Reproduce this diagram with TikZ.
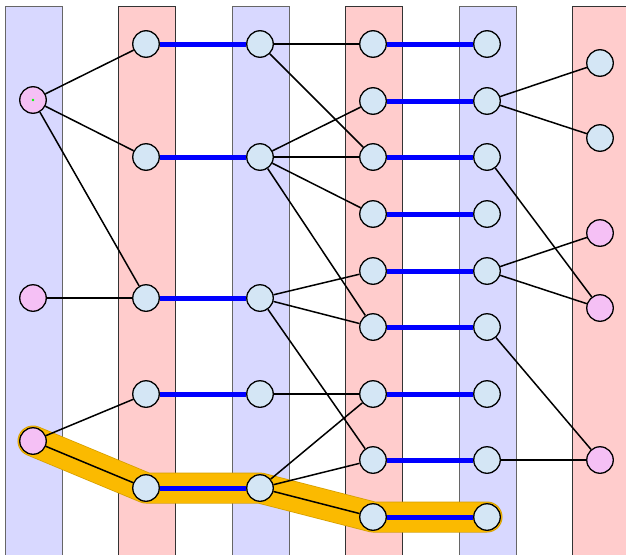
\documentclass[tikz,border=0pt]{standalone}
\usetikzlibrary{backgrounds}
\definecolor{stripblue}{RGB}{216,216,255}
\definecolor{stripred}{RGB}{255,204,204}
\definecolor{nodeblue}{RGB}{212,230,245}
\definecolor{nodepink}{RGB}{245,192,245}
\definecolor{pathorange}{RGB}{251,186,0}
\begin{document}
\begin{tikzpicture}[x=1pt, y=-1pt,
  vtx/.style={circle, draw, line width=1.3pt, fill=nodeblue, minimum size=26.5pt, inner sep=0pt},
  src/.style={vtx, fill=nodepink},
  rung/.style={blue, line width=5pt},
  arc/.style={line width=1.5pt}]
\useasboundingbox (0,0) rectangle (626,554);

% columns of vertices
\node[src] (a1) at (33,100) {};
\node[src] (a2) at (33,298) {};
\node[src] (a3) at (33,441) {};

\node[vtx] (b1) at (146,44) {};
\node[vtx] (b2) at (146,157) {};
\node[vtx] (b3) at (146,298) {};
\node[vtx] (b4) at (146,394) {};
\node[vtx] (b5) at (146,488) {};

\node[vtx] (c1) at (260,44) {};
\node[vtx] (c2) at (260,157) {};
\node[vtx] (c3) at (260,298) {};
\node[vtx] (c4) at (260,394) {};
\node[vtx] (c5) at (260,488) {};

\node[vtx] (d1) at (373,44) {};
\node[vtx] (d2) at (373,101) {};
\node[vtx] (d3) at (373,157) {};
\node[vtx] (d4) at (373,214) {};
\node[vtx] (d5) at (373,271) {};
\node[vtx] (d6) at (373,327) {};
\node[vtx] (d7) at (373,394) {};
\node[vtx] (d8) at (373,460) {};
\node[vtx] (d9) at (373,517) {};

\node[vtx] (e1) at (487,44) {};
\node[vtx] (e2) at (487,101) {};
\node[vtx] (e3) at (487,157) {};
\node[vtx] (e4) at (487,214) {};
\node[vtx] (e5) at (487,271) {};
\node[vtx] (e6) at (487,327) {};
\node[vtx] (e7) at (487,394) {};
\node[vtx] (e8) at (487,460) {};
\node[vtx] (e9) at (487,517) {};

\node[vtx] (f1) at (600,63) {};
\node[vtx] (f2) at (600,138) {};
\node[src] (f3) at (600,233) {};
\node[src] (f4) at (600,308) {};
\node[src] (f5) at (600,460) {};

\fill[green] (a1.center) circle (1.3pt);

% strips and highlighted path
\begin{scope}[on background layer]
\filldraw[fill=stripblue, draw=black!60] (5,6) rectangle (62,560);
\filldraw[fill=stripred, draw=black!80] (118,6) rectangle (175,560);
\filldraw[fill=stripblue, draw=black!60] (232,6) rectangle (289,560);
\filldraw[fill=stripred, draw=black!80] (345,6) rectangle (402,560);
\filldraw[fill=stripblue, draw=black!60] (459,6) rectangle (516,560);
\filldraw[fill=stripred, draw=black!80] (572,6) rectangle (640,560);

\draw[pathorange!85!black, line width=31pt, line cap=round, line join=round]
  (a3.center) -- (b5.center) -- (c5.center) -- (d9.center) -- (e9.center);
\draw[pathorange, line width=29.5pt, line cap=round, line join=round]
  (a3.center) -- (b5.center) -- (c5.center) -- (d9.center) -- (e9.center);
\end{scope}

% matched pairs
\draw[rung] (b1) -- (c1);
\draw[rung] (b2) -- (c2);
\draw[rung] (b3) -- (c3);
\draw[rung] (b4) -- (c4);
\draw[rung] (b5) -- (c5);
\draw[rung] (d1) -- (e1);
\draw[rung] (d2) -- (e2);
\draw[rung] (d3) -- (e3);
\draw[rung] (d4) -- (e4);
\draw[rung] (d5) -- (e5);
\draw[rung] (d6) -- (e6);
\draw[rung] (d7) -- (e7);
\draw[rung] (d8) -- (e8);
\draw[rung] (d9) -- (e9);

% other edges
\draw[arc] (a1) -- (b1);
\draw[arc] (a1) -- (b2);
\draw[arc] (a1) -- (b3);
\draw[arc] (a2) -- (b3);
\draw[arc] (a3) -- (b4);
\draw[arc] (a3) -- (b5);

\draw[arc] (c1) -- (d1);
\draw[arc] (c1) -- (d3);
\draw[arc] (c2) -- (d2);
\draw[arc] (c2) -- (d3);
\draw[arc] (c2) -- (d4);
\draw[arc] (c2) -- (d6);
\draw[arc] (c3) -- (d5);
\draw[arc] (c3) -- (d6);
\draw[arc] (c3) -- (d8);
\draw[arc] (c4) -- (d7);
\draw[arc] (c5) -- (d7);
\draw[arc] (c5) -- (d8);
\draw[arc] (c5) -- (d9);

\draw[arc] (e2) -- (f1);
\draw[arc] (e2) -- (f2);
\draw[arc] (e3) -- (f4);
\draw[arc] (e5) -- (f3);
\draw[arc] (e5) -- (f4);
\draw[arc] (e6) -- (f5);
\draw[arc] (e8) -- (f5);
\end{tikzpicture}
\end{document}
